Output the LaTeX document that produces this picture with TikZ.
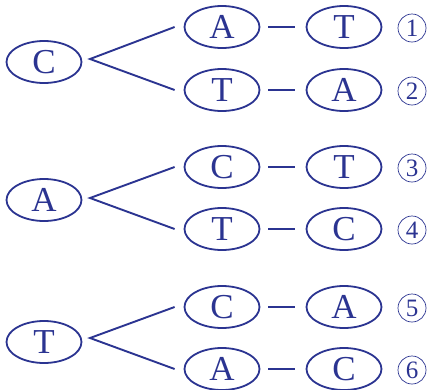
\documentclass[tikz,border=0pt]{standalone}
\usepackage{fontspec}
\setmainfont{Liberation Serif}
\usetikzlibrary{shapes.geometric}
\definecolor{ink}{RGB}{43,52,145}
\begin{document}
\begin{tikzpicture}[x=1pt,y=-1pt,
  base/.style={draw=ink,ellipse,line width=1.8pt,minimum width=75pt,minimum height=42pt,inner sep=0pt,text=ink,font=\fontsize{35}{35}\selectfont},
  num/.style={draw=ink,circle,line width=0.7pt,minimum size=28pt,inner sep=0pt,text=ink,font=\fontsize{25}{25}\selectfont},
  link/.style={draw=ink,line width=1.9pt}]
\useasboundingbox (0,0) rectangle (429,389);
% group 1
\node[base] (l1) at (44,62) {C};
\node[base] (a1) at (222,27) {A};
\node[base] (b1) at (344,27) {T};
\node[num] (n1) at (412,28) {1};
\node[base] (a2) at (222,90) {T};
\node[base] (b2) at (344,90) {A};
\node[num] (n2) at (412,91) {2};
\coordinate (v1) at (90,59);
% group 2
\node[base] (l2) at (44,200) {A};
\node[base] (a3) at (222,167) {C};
\node[base] (b3) at (344,167) {T};
\node[num] (n3) at (412,168) {3};
\node[base] (a4) at (222,229) {T};
\node[base] (b4) at (344,229) {C};
\node[num] (n4) at (412,230) {4};
\coordinate (v2) at (90,198);
% group 3
\node[base] (l3) at (44,342) {T};
\node[base] (a5) at (222,307) {C};
\node[base] (b5) at (344,307) {A};
\node[num] (n5) at (412,308) {5};
\node[base] (a6) at (222,369) {A};
\node[base] (b6) at (344,369) {C};
\node[num] (n6) at (412,370) {6};
\coordinate (v3) at (90,338);
% forks
\foreach \v/\p/\q in {v1/a1/a2,v2/a3/a4,v3/a5/a6}{
  \draw[link] ([xshift=-9pt]\p.west) -- (\v) -- ([xshift=-9pt]\q.west);
}
% dashes
\foreach \p/\q in {a1/b1,a2/b2,a3/b3,a4/b4,a5/b5,a6/b6}{
  \draw[link] ([xshift=8pt]\p.east) -- ([xshift=-11pt]\q.west);
}
\end{tikzpicture}
\end{document}
